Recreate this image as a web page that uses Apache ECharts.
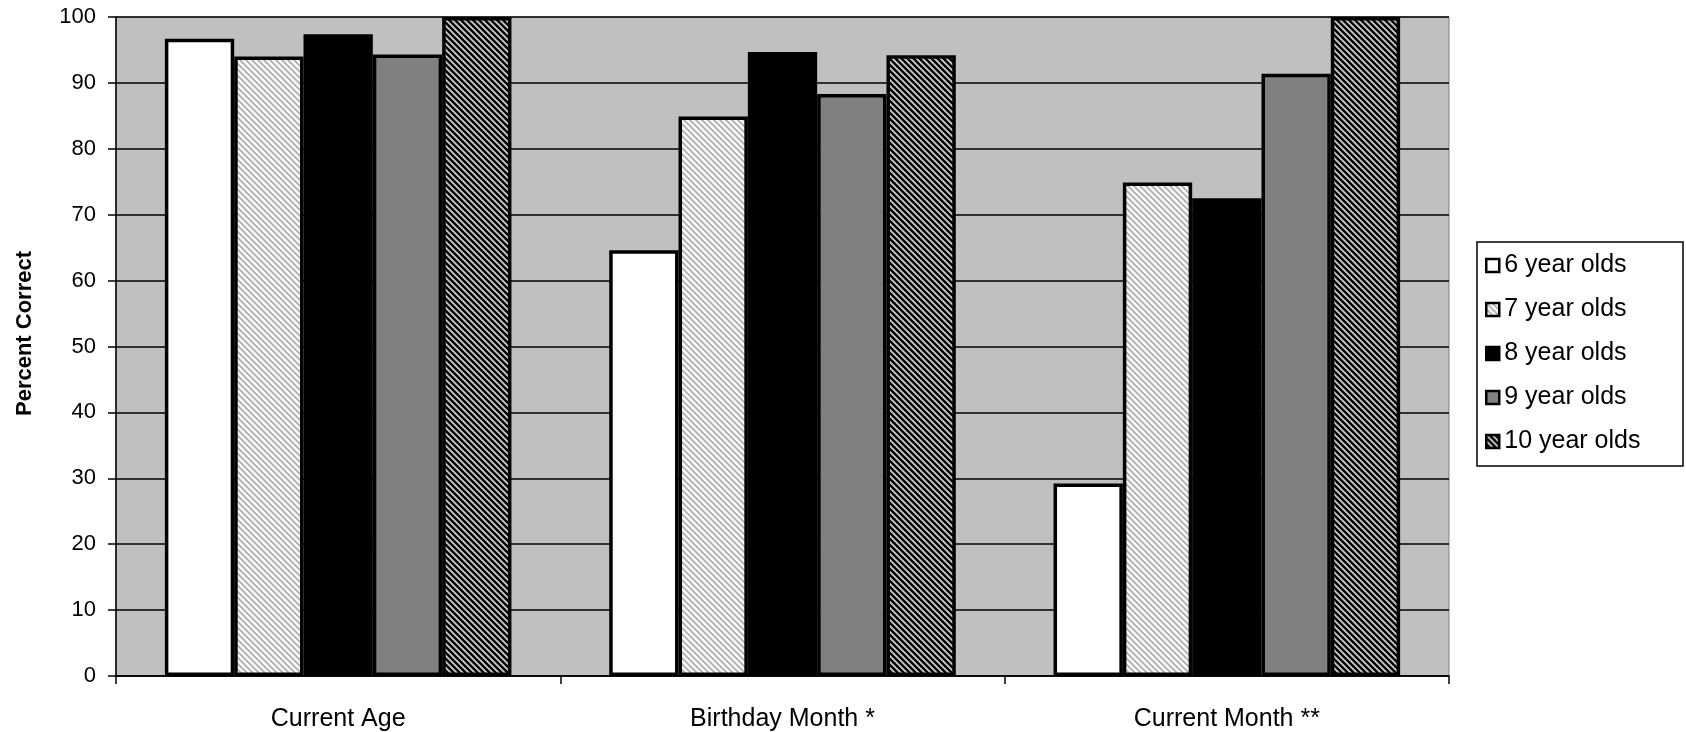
<!DOCTYPE html>
<html>
<head>
<meta charset="utf-8">
<script src="https://cdn.jsdelivr.net/npm/echarts@6/dist/echarts.min.js"></script>
<style>
  html, body { margin: 0; height: 100%; background: #fff; }
  #chart { width: 1686px; height: 732px; }
</style>
</head>
<body>
<div id="chart"></div>
<script>
  const categories = ['Current Age', 'Birthday Month *', 'Current Month **'];
  const groups = ['6 year olds', '7 year olds', '8 year olds', '9 year olds', '10 year olds'];
  const age6 = [96.7, 64.6, 29.2];
  const age7 = [94.0, 84.9, 74.9];
  const age8 = [97.4, 94.7, 72.5];
  const age9 = [94.3, 88.3, 91.4];
  const age10 = [100, 94.2, 100];
  const values = [age6, age7, age8, age9, age10];

  // diagonal stripe tiles, "\" direction
  function stripes(bg, fg, size, lw) {
    const c = document.createElement('canvas');
    c.width = size; c.height = size;
    const g = c.getContext('2d');
    g.fillStyle = bg;
    g.fillRect(0, 0, size, size);
    g.strokeStyle = fg;
    g.lineWidth = lw;
    g.beginPath();
    g.moveTo(-size, 0); g.lineTo(size, 2 * size);
    g.moveTo(0, 0); g.lineTo(size, size);
    g.moveTo(0, -size); g.lineTo(2 * size, size);
    g.stroke();
    return c;
  }

  const fills = [
    '#ffffff',
    { image: stripes('#ffffff', '#b4b4b4', 6, 2), repeat: 'repeat' },
    '#000000',
    '#808080',
    { image: stripes('#000000', '#d0d0d0', 6, 1.8), repeat: 'repeat' }
  ];

  const font = "'Liberation Sans', Arial, sans-serif";
  const chart = echarts.init(document.getElementById('chart'), null, { renderer: 'canvas' });

  const seriesList = groups.map(function (name, i) {
    return {
      type: 'bar',
      name: name,
      data: values[i],
      barGap: '0%',
      barCategoryGap: '22%',
      itemStyle: {
        color: fills[i],
        borderColor: '#000',
        borderWidth: 3.5
      },
      emphasis: { disabled: true }
    };
  });

  const option = {
    animation: false,
    textStyle: { fontFamily: font },
    grid: {
      left: 116, right: 237, top: 17, bottom: 55,
      show: true,
      backgroundColor: '#C0C0C0',
      borderColor: '#808080',
      borderWidth: 1
    },
    graphic: [{
      type: 'rect',
      z: 0,
      shape: { x: 1477, y: 242, width: 206, height: 224 },
      style: { fill: '#fff', stroke: '#000', lineWidth: 1.5 }
    }],
    legend: {
      orient: 'vertical',
      left: 1485,
      top: 253,
      padding: 0,
      itemGap: 19,
      itemWidth: 13,
      itemHeight: 13,
      icon: 'rect',
      itemStyle: { borderWidth: 2.5, borderColor: '#000' },
      textStyle: {
        fontFamily: font, fontSize: 25, color: '#000', lineHeight: 25
      },
      selectedMode: false,
      data: groups
    },
    xAxis: {
      type: 'category',
      data: categories,
      axisLine: { lineStyle: { color: '#000', width: 1.5 } },
      axisTick: { show: true, length: 8, lineStyle: { color: '#000', width: 1.5 } },
      axisLabel: { color: '#000', fontSize: 25, margin: 31, fontFamily: font },
      splitLine: { show: false }
    },
    yAxis: {
      type: 'value',
      min: 0,
      max: 100,
      interval: 10,
      name: 'Percent Correct',
      nameLocation: 'middle',
      nameRotate: 90,
      nameGap: 80,
      nameTextStyle: {
        color: '#000', fontSize: 22, fontWeight: 'bold', fontFamily: font,
        padding: [0, 0, 0, 26]
      },
      axisLine: { show: true, lineStyle: { color: '#000', width: 1.5 } },
      axisTick: { show: true, length: 8, lineStyle: { color: '#000', width: 1.5 } },
      axisLabel: { color: '#000', fontSize: 22, margin: 20, fontFamily: font },
      splitLine: { show: true, lineStyle: { color: '#000', width: 1.5 } }
    },
    series: seriesList
  };

  chart.setOption(option);
</script>
</body>
</html>
